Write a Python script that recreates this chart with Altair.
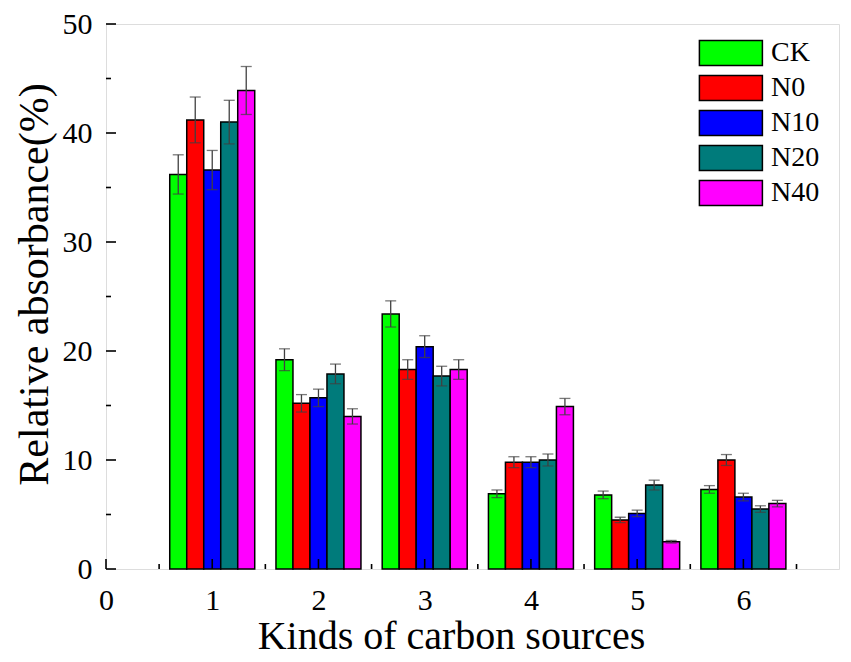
import altair as alt
import pandas as pd

groups = [1, 2, 3, 4, 5, 6]
series = ["CK", "N0", "N10", "N20", "N40"]
colors = ["#00FF00", "#FF0000", "#0000FF", "#007B7B", "#FF00FF"]

ck = [36.2, 19.2, 23.4, 6.9, 6.8, 7.3]
n0 = [41.2, 15.2, 18.3, 9.8, 4.5, 10.0]
n10 = [36.6, 15.7, 20.4, 9.8, 5.1, 6.6]
n20 = [41.0, 17.9, 17.7, 10.0, 7.7, 5.5]
n40 = [43.9, 14.0, 18.3, 14.9, 2.5, 6.0]

ck_err = [1.8, 1.0, 1.2, 0.35, 0.35, 0.35]
n0_err = [2.1, 0.8, 0.9, 0.5, 0.25, 0.5]
n10_err = [1.8, 0.8, 1.0, 0.5, 0.3, 0.35]
n20_err = [2.0, 0.9, 0.9, 0.55, 0.45, 0.3]
n40_err = [2.2, 0.7, 0.9, 0.75, 0.12, 0.3]

y_major = [0, 10, 20, 30, 40, 50]
y_minor = [5, 15, 25, 35, 45]
x_major = [0, 1, 2, 3, 4, 5, 6]
x_minor = [0.5, 1.5, 2.5, 3.5, 4.5, 5.5, 6.5]

vals = [ck, n0, n10, n20, n40]
errs = [ck_err, n0_err, n10_err, n20_err, n40_err]
rows = []
for si, s in enumerate(series):
    for gi, g in enumerate(groups):
        rows.append({"group": g, "series": s, "idx": si,
                     "value": vals[si][gi], "err": errs[si][gi]})
df = pd.DataFrame(rows)

W, H = 733, 545
FONT = "Liberation Serif"

xscale = alt.Scale(domain=[0, 6.9], nice=False, zero=False)
yscale = alt.Scale(domain=[0, 50], nice=False)

base = alt.Chart(df).transform_calculate(
    xc="datum.group + (datum.idx - 2) * 0.16",
    x0="datum.group + (datum.idx - 2) * 0.16 - 0.08",
    x1="datum.group + (datum.idx - 2) * 0.16 + 0.08",
    lo="datum.value - datum.err",
    hi="datum.value + datum.err",
)

bars = base.mark_rect(stroke="black", strokeWidth=1.5).encode(
    x=alt.X("x0:Q", scale=xscale,
            axis=alt.Axis(values=x_major, title="Kinds of carbon sources",
                          ticks=False, domain=False, grid=False, labelFlush=False,
                          labelFont=FONT, labelFontSize=30, labelColor="black",
                          labelPadding=16, titleFont=FONT, titleFontSize=40,
                          titleFontWeight="normal", titleColor="black",
                          titlePadding=1, titleX=345, format="d")),
    x2="x1:Q",
    y=alt.Y("value:Q", scale=yscale,
            axis=alt.Axis(values=y_major, title="Relative absorbance(%)",
                          ticks=False, domain=False, grid=False, labelFlush=False,
                          labelFont=FONT, labelFontSize=30, labelColor="black",
                          labelPadding=14, titleFont=FONT, titleFontSize=42,
                          titleFontWeight="normal", titleColor="black",
                          titlePadding=6, titleY=260)),
    y2=alt.datum(0),
    fill=alt.Fill("series:N", sort=series,
                  scale=alt.Scale(domain=series, range=colors),
                  legend=alt.Legend(
                      title=None, orient="none", legendX=592, legendY=15,
                      symbolType="M-1,-1H4V1H-1Z", symbolSize=635,
                      symbolStrokeColor="black", symbolStrokeWidth=1.5,
                      symbolOpacity=1,
                      labelFont=FONT, labelFontSize=28, labelColor="black",
                      labelOffset=45, rowPadding=3, padding=0)),
)

err_rule = base.mark_rule(color="#404040", strokeWidth=1.3).encode(
    x="xc:Q", y="lo:Q", y2="hi:Q")
cap_hi = base.mark_tick(color="#404040", thickness=1.3, size=11, orient="horizontal").encode(
    x="xc:Q", y="hi:Q")
cap_lo = base.mark_tick(color="#404040", thickness=1.3, size=11, orient="horizontal").encode(
    x="xc:Q", y="lo:Q")

TICK = "black"
ymaj = alt.Chart(pd.DataFrame({"v": y_major})).mark_rule(color=TICK, strokeWidth=1.6).encode(
    y=alt.Y("v:Q", scale=yscale), x=alt.value(0), x2=alt.value(10))
ymin = alt.Chart(pd.DataFrame({"v": y_minor})).mark_rule(color=TICK, strokeWidth=1.6).encode(
    y=alt.Y("v:Q", scale=yscale), x=alt.value(0), x2=alt.value(5))
xmaj = alt.Chart(pd.DataFrame({"v": x_major})).mark_rule(color=TICK, strokeWidth=1.6).encode(
    x=alt.X("v:Q", scale=xscale), y=alt.value(H), y2=alt.value(H - 10))
xmin = alt.Chart(pd.DataFrame({"v": x_minor})).mark_rule(color=TICK, strokeWidth=1.6).encode(
    x=alt.X("v:Q", scale=xscale), y=alt.value(H), y2=alt.value(H - 5))

chart = alt.layer(bars, err_rule, cap_hi, cap_lo, ymaj, ymin, xmaj, xmin).properties(
    width=W, height=H,
    autosize=alt.AutoSizeParams(type="none"),
    padding={"left": 98, "top": 16, "right": 4, "bottom": 88},
).configure_view(stroke="black", strokeWidth=2).configure(
    background="white", font=FONT
).configure_axis(labelFont=FONT, titleFont=FONT).configure_legend(labelFont=FONT)

chart.save("out.html", embed_options={"renderer": "svg", "actions": False})
